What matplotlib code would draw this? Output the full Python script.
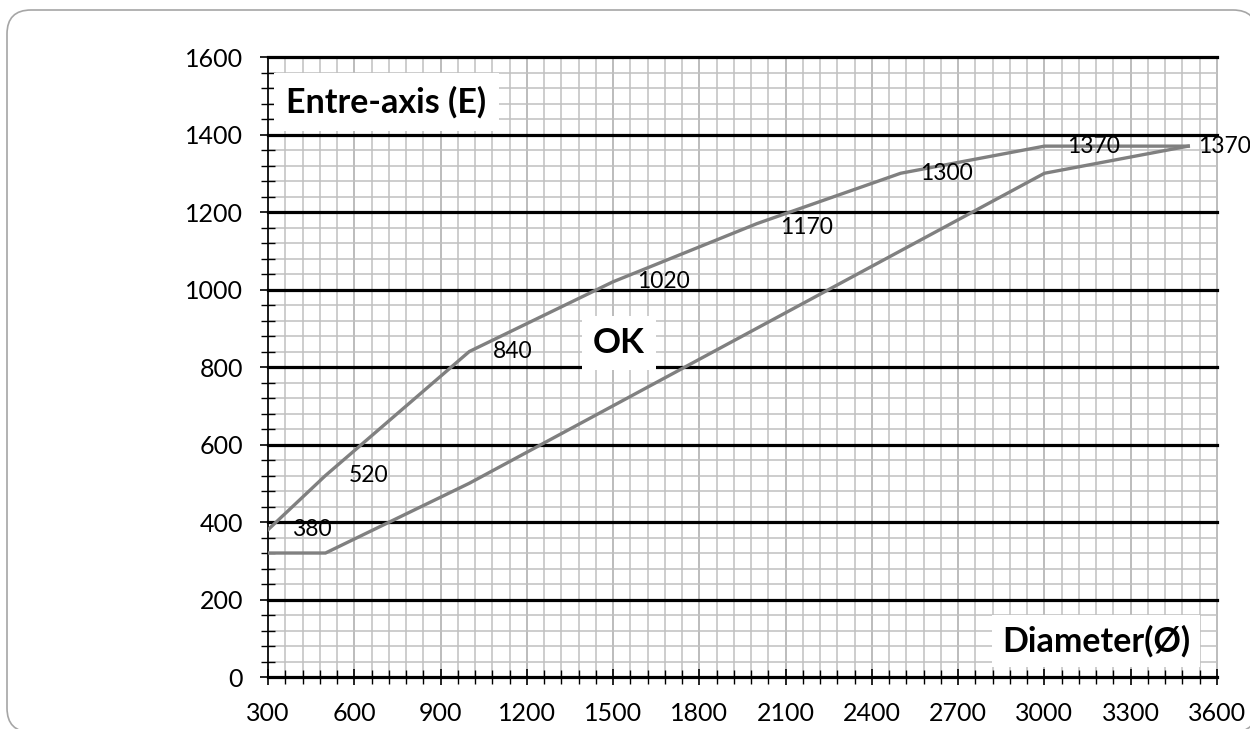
import matplotlib
matplotlib.use('Agg')
import matplotlib.pyplot as plt
from matplotlib.patches import FancyBboxPatch
from matplotlib.ticker import MultipleLocator

plt.rcParams['font.family'] = ['Lato', 'DejaVu Sans']

# Data
diameter = [300, 500, 1000, 1500, 2000, 2500, 3000, 3500]
upper_e = [380, 520, 840, 1020, 1170, 1300, 1370, 1370]
lower_diameter = [300, 500, 1000, 1500, 2000, 2500, 3000, 3500]
lower_e = [320, 320, 500, 700, 900, 1100, 1300, 1370]
label_dx = [17, 17, 17, 17, 17, 14, 16, 7]   # label offsets in points
label_dy = [0, 0, 0, 0, -3, 0, 0, 0]

fig = plt.figure(figsize=(12.5, 7.29), dpi=100)

# rounded frame around the chart (display pixels)
frame = FancyBboxPatch((7, -3), 1250, 722, boxstyle='round,pad=0,rounding_size=24',
                       transform=None, facecolor='white', edgecolor='#a6a6a6', lw=1.2, zorder=-10)
fig.patches.append(frame)

ax = fig.add_axes([0.2144, 0.0713, 0.7592, 0.8505])
ax.set_facecolor('none')
ax.set_xlim(300, 3600)
ax.set_ylim(0, 1600)

ax.xaxis.set_major_locator(MultipleLocator(300))
ax.xaxis.set_minor_locator(MultipleLocator(60))
ax.yaxis.set_major_locator(MultipleLocator(200))
ax.yaxis.set_minor_locator(MultipleLocator(40))

ax.grid(which='minor', axis='both', color='#c0c0c0', lw=1.1, zorder=0)
ax.grid(which='major', axis='x', color='#b0b0b0', lw=1.2, zorder=0)
ax.grid(which='major', axis='y', color='black', lw=2.3, zorder=1)
ax.set_axisbelow(True)
for gl in ax.get_ygridlines() + ax.get_xgridlines():
    gl.set_clip_on(False)

for s in ['top', 'right']:
    ax.spines[s].set_visible(False)
for s in ['left', 'bottom']:
    ax.spines[s].set_color('black')
    ax.spines[s].set_linewidth(1.2)
    ax.spines[s].set_zorder(3)

ax.tick_params(which='major', direction='inout', length=12, width=1.2, labelsize=18)
ax.tick_params(which='minor', direction='inout', length=9.5, width=1.0)
ax.tick_params(axis='x', which='major', pad=12)
ax.tick_params(axis='y', which='major', pad=12)

ax.plot(diameter, upper_e, color='#808080', lw=2.4, zorder=4, solid_joinstyle='miter')
ax.plot(lower_diameter, lower_e, color='#808080', lw=2.4, zorder=4, solid_joinstyle='miter')

for x, y, dx, dy in zip(diameter, upper_e, label_dx, label_dy):
    ax.annotate(str(y), (x, y), xytext=(dx, dy), textcoords='offset points',
                ha='left', va='center', fontsize=16.5, color='black', zorder=5,
                annotation_clip=False)

ax.text(712, 1484, 'Entre-axis (E)', fontsize=24.5, fontweight='bold', ha='center', va='center',
        bbox=dict(facecolor='white', edgecolor='none', pad=9), zorder=6)
ax.text(1521, 862, 'OK', fontsize=25, fontweight='bold', ha='center', va='center',
        bbox=dict(facecolor='white', edgecolor='none', pad=8), zorder=6)
ax.text(3180, 93, 'Diameter(Ø)', fontsize=24.5, fontweight='bold', ha='center', va='center',
        bbox=dict(facecolor='white', edgecolor='none', pad=7), zorder=6)

fig.savefig('out.png', dpi=100)
